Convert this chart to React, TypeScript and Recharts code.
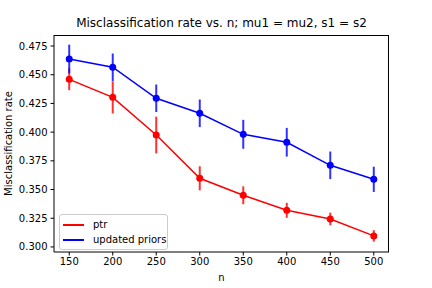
import { LineChart, Line, XAxis, YAxis, ErrorBar } from 'recharts';

const nValues = [150, 200, 250, 300, 350, 400, 450, 500];
const ptrRate = [0.446, 0.4303, 0.3975, 0.3598, 0.345, 0.3319, 0.3244, 0.3096];
const ptrErr = [0.0095, 0.014, 0.016, 0.0105, 0.0078, 0.0065, 0.0055, 0.005];
const priorsRate = [0.4637, 0.4565, 0.4295, 0.4164, 0.3981, 0.3912, 0.3711, 0.3589];
const priorsErr = [0.0125, 0.012, 0.012, 0.012, 0.0126, 0.0125, 0.012, 0.011];
const xTicks = [150, 200, 250, 300, 350, 400, 450, 500];
const yTicks = [0.3, 0.325, 0.35, 0.375, 0.4, 0.425, 0.45, 0.475];
const legendItems = [
  { label: 'ptr', color: '#ff0000' },
  { label: 'updated priors', color: '#0000ff' },
];

const rows = nValues.map((n, i) => ({
  n,
  ptr: ptrRate[i],
  ptrErr: ptrErr[i],
  priors: priorsRate[i],
  priorsErr: priorsErr[i],
}));

const font = 'DejaVu Sans, sans-serif';
const tickStyle = { fontSize: 10, fill: '#000', fontFamily: font };

export default function App() {
  return (
    <div style={{ position: 'absolute', left: 0, top: 0, width: 432, height: 288, background: '#fff' }}>
      <div
        style={{
          position: 'absolute',
          left: 54,
          width: 335,
          top: 16,
          textAlign: 'center',
          fontFamily: font,
          fontSize: 12,
          color: '#000',
          whiteSpace: 'nowrap',
        }}
      >
        Misclassification rate vs. n; mu1 = mu2, s1 = s2
      </div>
      <LineChart width={432} height={288} data={rows} margin={{ top: 35, right: 43, left: 0, bottom: 0 }}>
        <XAxis
          dataKey="n"
          type="number"
          domain={[132.5, 517.5]}
          ticks={xTicks}
          tick={tickStyle}
          tickSize={3.5}
          tickMargin={2}
          stroke="#000"
          height={36}
          label={{ value: 'n', position: 'center', dy: 7, fontSize: 10, fill: '#000', fontFamily: font }}
        />
        <YAxis
          type="number"
          domain={[0.2956, 0.4846]}
          ticks={yTicks}
          tickFormatter={(v: number) => v.toFixed(3)}
          tick={tickStyle}
          tickSize={3.5}
          tickMargin={3}
          stroke="#000"
          width={54}
          label={{ value: 'Misclassification rate', angle: -90, position: 'center', dx: -19, fontSize: 10, fill: '#000', fontFamily: font }}
        />
        <Line
          dataKey="ptr"
          name="ptr"
          stroke="#ff0000"
          strokeWidth={1.5}
          dot={{ r: 3.5, fill: '#ff0000', stroke: '#ff0000', strokeWidth: 0 }}
          isAnimationActive={false}
        >
          <ErrorBar dataKey="ptrErr" direction="y" width={0} stroke="#ff0000" strokeWidth={2} opacity={0.8} />
        </Line>
        <Line
          dataKey="priors"
          name="updated priors"
          stroke="#0000ff"
          strokeWidth={1.5}
          dot={{ r: 3.5, fill: '#0000ff', stroke: '#0000ff', strokeWidth: 0 }}
          isAnimationActive={false}
        >
          <ErrorBar dataKey="priorsErr" direction="y" width={0} stroke="#0000ff" strokeWidth={2} opacity={0.8} />
        </Line>
      </LineChart>
      {/* top and right spines */}
      <div
        style={{
          position: 'absolute',
          left: 54,
          top: 35,
          width: 335,
          height: 217,
          borderTop: '1px solid #000',
          borderRight: '1px solid #000',
          boxSizing: 'border-box',
          pointerEvents: 'none',
        }}
      />
      <div
        style={{
          position: 'absolute',
          left: 59,
          top: 214,
          width: 109,
          height: 36,
          border: '1px solid #ccc',
          borderRadius: 3,
          background: 'rgba(255,255,255,0.8)',
          fontFamily: font,
          fontSize: 10,
          color: '#000',
          boxSizing: 'border-box',
          padding: '2px 0 0 3px',
          whiteSpace: 'nowrap',
        }}
      >
        {legendItems.map((e) => (
          <div key={e.label} style={{ display: 'flex', alignItems: 'center', height: 15 }}>
            <span style={{ display: 'inline-block', width: 21, height: 2, background: e.color, marginRight: 9 }} />
            <span>{e.label}</span>
          </div>
        ))}
      </div>
    </div>
  );
}
